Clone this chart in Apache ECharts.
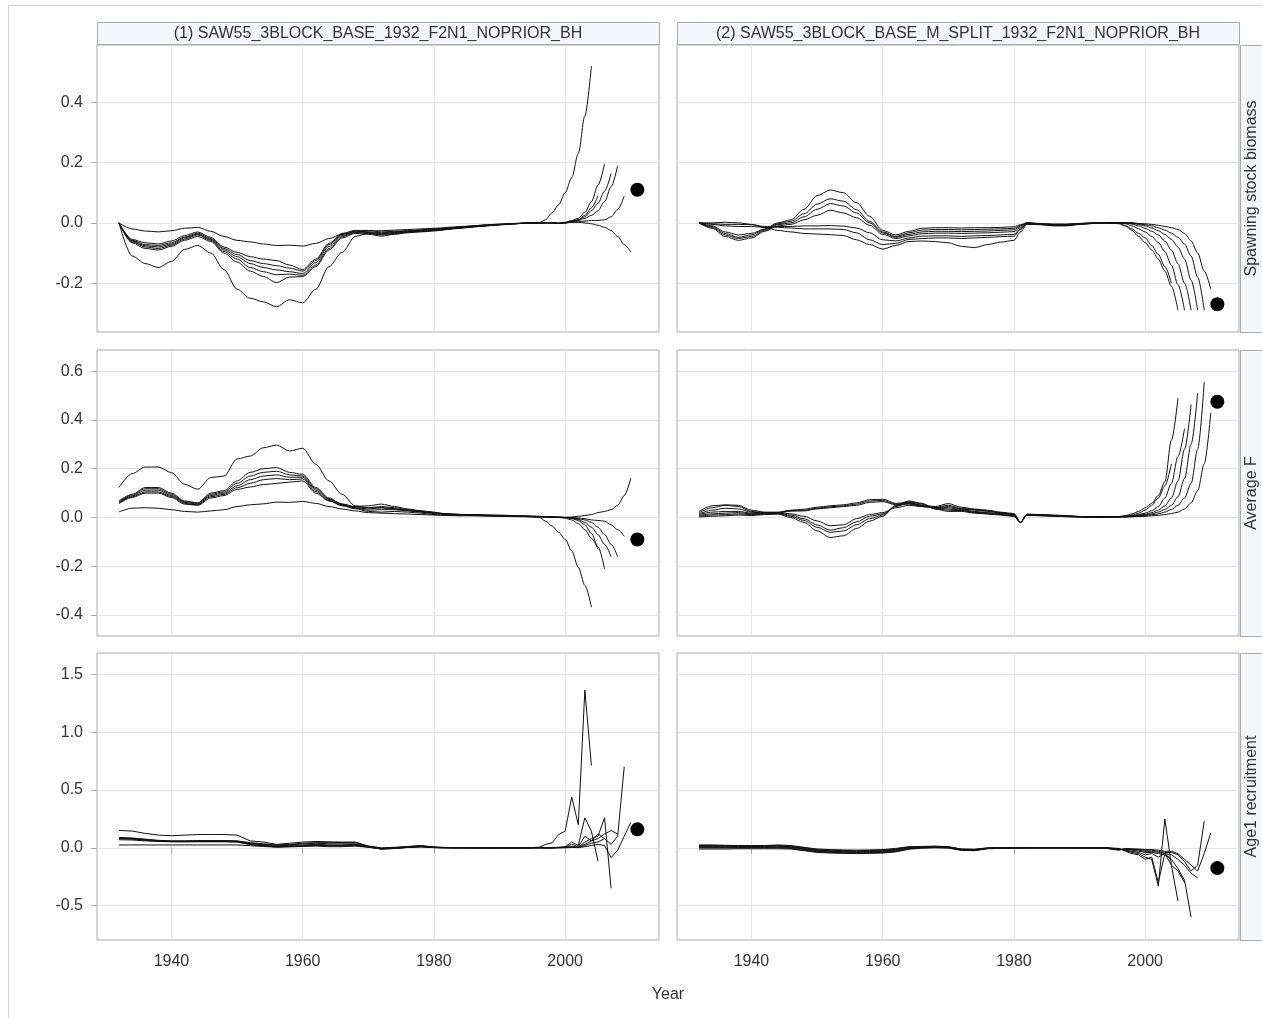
<!DOCTYPE html>
<html><head><meta charset="utf-8">
<script src="https://cdn.jsdelivr.net/npm/echarts@6/dist/echarts.min.js"></script>
<style>html,body{margin:0;padding:0;background:#fff}#c{width:1262px;height:1018px}</style>
</head><body><div id="c"></div>
<script>
// ---------------- DATA ----------------
const YEARS = [1932,1934,1936,1938,1940,1942,1944,1946,1948,1950,1952,1954,1956,1958,1960,1962,1964,1966,1968,1970,1972,1974,1976,1978,1980,1981,1982,1984,1986,1988,1990,1992,1994,1996,1997,1998,1999,2000,2001,2002,2003,2004,2005,2006,2007,2008,2009,2010];
const PEEL_END = [2004,2005,2006,2007,2008,2009,2010];
const DOT_YEAR = 2011;
const MODEL_NAMES = ['(1) SAW55_3BLOCK_BASE_1932_F2N1_NOPRIOR_BH','(2) SAW55_3BLOCK_BASE_M_SPLIT_1932_F2N1_NOPRIOR_BH'];
const METRIC_NAMES = ['Spawning stock biomass','Average F','Age1 recruitment'];
const X_TICKS = [1940,1960,1980,2000];
const Y_TICKS_SSB = [-0.2,0,0.2,0.4];
const Y_TICKS_F = [-0.4,-0.2,0,0.2,0.4,0.6];
const Y_TICKS_R = [-0.5,0,0.5,1.0,1.5];
const X_TITLE = 'Year';
// dots at 2011: [model1, model2]
const DOT_SSB = [0.11,-0.27];
const DOT_F = [-0.09,0.475];
const DOT_R = [0.16,-0.175];

// Panel 1: SSB, model 1 (peels ending 2004..2010)
const ssb1_p2004 = [0,-0.11,-0.135,-0.148,-0.128,-0.088,-0.075,-0.1,-0.155,-0.22,-0.25,-0.262,-0.278,-0.255,-0.265,-0.22,-0.145,-0.098,-0.045,-0.035,-0.038,-0.035,-0.03,-0.028,-0.025,-0.024,-0.021,-0.017,-0.013,-0.009,-0.006,-0.003,-0.001,0,
  0.01,0.033,0.06,0.1,0.15,0.23,0.355,0.52];
const ssb1_p2005 = [0,-0.066,-0.085,-0.09,-0.078,-0.058,-0.045,-0.062,-0.1,-0.13,-0.16,-0.178,-0.198,-0.18,-0.178,-0.145,-0.09,-0.05,-0.035,-0.038,-0.044,-0.038,-0.033,-0.03,-0.027,-0.025,-0.022,-0.018,-0.014,-0.01,-0.007,-0.004,-0.001,0,
  0,0,0,0,0.005,0.01,0.025,0.05,0.09];
const ssb1_p2006 = [0,-0.063,-0.08,-0.085,-0.074,-0.054,-0.04,-0.058,-0.095,-0.12,-0.148,-0.162,-0.172,-0.17,-0.174,-0.14,-0.085,-0.046,-0.032,-0.035,-0.04,-0.035,-0.031,-0.028,-0.025,-0.023,-0.02,-0.017,-0.013,-0.01,-0.006,-0.003,-0.001,0,
  0,0,-0.002,0.002,0.008,0.015,0.035,0.07,0.125,0.196];
const ssb1_p2007 = [0,-0.06,-0.076,-0.08,-0.07,-0.05,-0.037,-0.055,-0.09,-0.112,-0.135,-0.148,-0.156,-0.162,-0.168,-0.132,-0.078,-0.042,-0.03,-0.032,-0.036,-0.032,-0.029,-0.026,-0.023,-0.021,-0.019,-0.016,-0.012,-0.009,-0.006,-0.003,-0.001,0,
  0,0,-0.002,0,0.005,0.01,0.02,0.04,0.065,0.105,0.164];
const ssb1_p2008 = [0,-0.058,-0.072,-0.075,-0.066,-0.047,-0.034,-0.052,-0.085,-0.105,-0.125,-0.135,-0.142,-0.15,-0.16,-0.125,-0.072,-0.038,-0.027,-0.03,-0.033,-0.03,-0.027,-0.024,-0.022,-0.02,-0.018,-0.015,-0.011,-0.008,-0.005,-0.003,-0.001,0,
  0,0,-0.002,0,0.004,0.008,0.015,0.025,0.04,0.07,0.12,0.19];
const ssb1_p2009 = [0,-0.055,-0.066,-0.07,-0.06,-0.042,-0.03,-0.048,-0.08,-0.098,-0.112,-0.12,-0.125,-0.14,-0.155,-0.12,-0.068,-0.035,-0.025,-0.025,-0.03,-0.028,-0.026,-0.023,-0.02,-0.019,-0.017,-0.014,-0.01,-0.007,-0.005,-0.003,-0.001,0,
  0,0,-0.002,0,0.002,0.004,0.006,0.008,0.008,0.01,0.02,0.045,0.089];
const ssb1_p2010 = [0,-0.02,-0.027,-0.03,-0.026,-0.018,-0.015,-0.028,-0.045,-0.058,-0.063,-0.07,-0.075,-0.074,-0.077,-0.068,-0.052,-0.038,-0.03,-0.027,-0.026,-0.024,-0.022,-0.02,-0.018,-0.017,-0.015,-0.012,-0.01,-0.006,-0.004,-0.002,0,0,
  0,0,-0.002,0,0.002,0.002,0,-0.003,-0.008,-0.015,-0.025,-0.045,-0.072,-0.097];

// Panel 2: SSB, model 2
const ssb2_p2004 = [0,0,0.002,0,-0.005,-0.015,-0.025,-0.03,-0.035,-0.037,-0.039,-0.042,-0.056,-0.072,-0.087,-0.075,-0.062,-0.06,-0.062,-0.066,-0.078,-0.082,-0.072,-0.064,-0.058,-0.03,-0.005,-0.006,-0.01,-0.01,-0.005,-0.002,0,-0.003,
  -0.01,-0.02,-0.035,-0.05,-0.075,-0.105,-0.145,-0.2];
const ssb2_p2005 = [0,-0.01,-0.03,-0.04,-0.035,-0.02,0,0.01,0.045,0.09,0.109,0.1,0.067,0.022,-0.025,-0.04,-0.028,-0.018,-0.016,-0.016,-0.017,-0.016,-0.016,-0.015,-0.013,-0.006,0,-0.002,-0.004,-0.004,-0.002,0,0,0,
  -0.01,-0.025,-0.045,-0.065,-0.09,-0.12,-0.16,-0.21,-0.29];
const ssb2_p2006 = [0,-0.003,-0.005,-0.005,-0.006,-0.012,-0.015,-0.017,-0.02,-0.02,-0.02,-0.022,-0.033,-0.056,-0.072,-0.068,-0.055,-0.052,-0.05,-0.05,-0.052,-0.05,-0.048,-0.046,-0.044,-0.022,-0.003,-0.005,-0.009,-0.009,-0.005,-0.002,0,0,
  -0.003,-0.01,-0.02,-0.03,-0.045,-0.065,-0.095,-0.14,-0.205,-0.29];
const ssb2_p2007 = [0,-0.012,-0.035,-0.048,-0.04,-0.022,-0.003,0.005,0.03,0.062,0.08,0.072,0.044,0.005,-0.03,-0.045,-0.033,-0.024,-0.022,-0.022,-0.023,-0.022,-0.021,-0.02,-0.018,-0.009,0,-0.003,-0.005,-0.005,-0.002,0,0,0,
  0,-0.004,-0.01,-0.018,-0.028,-0.04,-0.06,-0.09,-0.135,-0.2,-0.29];
const ssb2_p2008 = [0,-0.005,-0.01,-0.012,-0.012,-0.015,-0.012,-0.012,-0.01,-0.01,-0.009,-0.011,-0.017,-0.033,-0.056,-0.06,-0.05,-0.044,-0.043,-0.043,-0.045,-0.043,-0.042,-0.04,-0.038,-0.019,-0.002,-0.004,-0.008,-0.008,-0.004,-0.001,0,0,
  0,-0.002,-0.005,-0.01,-0.017,-0.026,-0.038,-0.055,-0.08,-0.12,-0.19,-0.29];
const ssb2_p2009 = [0,-0.015,-0.04,-0.052,-0.045,-0.025,-0.006,0,0.02,0.045,0.064,0.056,0.033,0,-0.033,-0.048,-0.038,-0.03,-0.028,-0.028,-0.029,-0.028,-0.027,-0.025,-0.023,-0.011,0,-0.003,-0.006,-0.006,-0.003,-0.001,0,0,
  0,0,-0.003,-0.006,-0.01,-0.016,-0.024,-0.034,-0.048,-0.07,-0.11,-0.18,-0.29];
const ssb2_p2010 = [0,-0.018,-0.045,-0.058,-0.05,-0.028,-0.01,-0.005,0.01,0.025,0.042,0.033,0.017,-0.008,-0.038,-0.052,-0.043,-0.036,-0.034,-0.034,-0.035,-0.034,-0.033,-0.031,-0.029,-0.015,0,-0.004,-0.007,-0.007,-0.003,-0.001,0,0,
  0,0,-0.002,-0.003,-0.005,-0.008,-0.012,-0.016,-0.022,-0.035,-0.06,-0.1,-0.16,-0.22];

// Panel 3: Average F, model 1
const f1_p2004 = [0.062,0.088,0.112,0.112,0.09,0.062,0.055,0.09,0.1,0.13,0.155,0.17,0.175,0.165,0.165,0.112,0.074,0.052,0.04,0.035,0.04,0.036,0.03,0.024,0.018,0.016,0.013,0.011,0.01,0.008,0.007,0.006,0.005,0.003,
  -0.015,-0.035,-0.06,-0.09,-0.137,-0.204,-0.278,-0.368];
const f1_p2005 = [0.057,0.082,0.1,0.1,0.082,0.055,0.05,0.08,0.09,0.115,0.125,0.135,0.14,0.145,0.15,0.1,0.068,0.048,0.036,0.025,0.022,0.025,0.022,0.018,0.012,0.011,0.01,0.009,0.008,0.007,0.006,0.005,0.004,0.002,
  0.002,0.001,0,-0.003,-0.01,-0.025,-0.05,-0.085,-0.13];
const f1_p2006 = [0.068,0.095,0.123,0.123,0.1,0.068,0.06,0.1,0.11,0.15,0.185,0.2,0.205,0.185,0.177,0.123,0.08,0.055,0.045,0.048,0.055,0.045,0.035,0.028,0.022,0.018,0.015,0.013,0.012,0.01,0.008,0.007,0.006,0.004,
  0.003,0.002,0.001,0,-0.004,-0.012,-0.03,-0.065,-0.12,-0.21];
const f1_p2007 = [0.065,0.092,0.118,0.118,0.095,0.065,0.058,0.095,0.105,0.14,0.17,0.185,0.19,0.175,0.17,0.118,0.077,0.055,0.043,0.04,0.045,0.04,0.032,0.026,0.02,0.017,0.014,0.012,0.011,0.009,0.008,0.006,0.005,0.003,
  0.003,0.002,0.001,0,-0.003,-0.008,-0.02,-0.04,-0.07,-0.11,-0.161];
const f1_p2008 = [0.06,0.085,0.105,0.105,0.086,0.058,0.052,0.085,0.095,0.122,0.14,0.155,0.16,0.155,0.158,0.106,0.07,0.05,0.038,0.03,0.032,0.032,0.027,0.022,0.016,0.014,0.012,0.01,0.009,0.008,0.006,0.005,0.004,0.002,
  0.002,0.002,0.001,0,-0.002,-0.005,-0.01,-0.02,-0.04,-0.07,-0.11,-0.161];
const f1_p2009 = [0.023,0.038,0.04,0.038,0.032,0.025,0.022,0.027,0.032,0.045,0.052,0.056,0.063,0.062,0.066,0.058,0.045,0.035,0.027,0.02,0.018,0.016,0.014,0.012,0.01,0.009,0.008,0.007,0.007,0.006,0.005,0.004,0.003,0.002,
  0.002,0.001,0.001,0,0,-0.002,-0.005,-0.01,-0.012,-0.015,-0.03,-0.05,-0.077];
const f1_p2010 = [0.123,0.18,0.207,0.207,0.184,0.136,0.116,0.164,0.17,0.24,0.252,0.286,0.297,0.273,0.284,0.218,0.15,0.095,0.048,0.04,0.04,0.035,0.03,0.025,0.02,0.016,0.015,0.012,0.012,0.01,0.01,0.008,0.007,0.005,
  0.004,0.003,0.002,0.001,0.002,0.005,0.008,0.012,0.02,0.025,0.032,0.05,0.09,0.161];

// Panel 4: Average F, model 2
const f2_p2004 = [0.002,0.005,0.007,0.01,0.008,0.012,0.014,0,-0.02,-0.055,-0.082,-0.075,-0.045,-0.015,0.005,0.05,0.068,0.058,0.035,0.025,0.025,0.018,0.014,0.01,0.004,-0.02,0.009,0.007,0.005,0.003,0.002,0.001,0.001,0.002,
  0.006,0.01,0.018,0.03,0.05,0.08,0.13,0.22];
const f2_p2005 = [0.025,0.048,0.052,0.05,0.03,0.022,0.022,0.03,0.034,0.042,0.048,0.052,0.06,0.073,0.075,0.058,0.062,0.05,0.045,0.057,0.042,0.035,0.03,0.022,0.016,-0.02,0.014,0.012,0.01,0.008,0.004,0.003,0.003,0.004,
  0.008,0.015,0.025,0.04,0.058,0.09,0.147,0.317,0.49];
const f2_p2006 = [0.005,0.01,0.012,0.015,0.012,0.014,0.016,0.005,-0.012,-0.04,-0.061,-0.055,-0.03,-0.005,0.01,0.048,0.065,0.055,0.035,0.03,0.028,0.02,0.016,0.012,0.006,-0.02,0.01,0.008,0.006,0.004,0.002,0.001,0.002,0.002,
  0.005,0.008,0.012,0.018,0.028,0.045,0.08,0.14,0.25,0.365];
const f2_p2007 = [0.02,0.04,0.05,0.045,0.025,0.02,0.02,0.028,0.03,0.038,0.044,0.048,0.055,0.068,0.07,0.055,0.058,0.047,0.042,0.05,0.038,0.032,0.027,0.02,0.014,-0.02,0.013,0.011,0.009,0.007,0.004,0.003,0.003,0.004,
  0.004,0.006,0.009,0.013,0.02,0.03,0.048,0.08,0.15,0.28,0.463];
const f2_p2008 = [0.008,0.015,0.018,0.02,0.015,0.016,0.018,0.01,-0.005,-0.03,-0.052,-0.042,-0.018,0.005,0.015,0.045,0.06,0.05,0.038,0.035,0.03,0.022,0.018,0.014,0.008,-0.02,0.011,0.009,0.007,0.005,0.003,0.002,0.002,0.003,
  0.003,0.005,0.007,0.01,0.015,0.022,0.033,0.05,0.085,0.16,0.3,0.51];
const f2_p2009 = [0.015,0.03,0.038,0.035,0.022,0.018,0.018,0.026,0.027,0.035,0.04,0.045,0.05,0.062,0.065,0.052,0.055,0.045,0.04,0.045,0.035,0.03,0.025,0.018,0.012,-0.02,0.012,0.01,0.008,0.006,0.003,0.003,0.003,0.003,
  0.003,0.004,0.006,0.008,0.011,0.015,0.022,0.033,0.05,0.08,0.14,0.28,0.555];
const f2_p2010 = [0.012,0.022,0.025,0.025,0.018,0.018,0.02,0.015,0.005,-0.014,-0.034,-0.03,-0.005,0.012,0.02,0.04,0.05,0.045,0.04,0.04,0.032,0.025,0.02,0.016,0.01,-0.02,0.012,0.01,0.008,0.006,0.003,0.002,0.002,0.003,
  0.002,0.003,0.004,0.005,0.007,0.009,0.012,0.016,0.022,0.035,0.06,0.11,0.22,0.43];

// Panel 5: Age1 recruitment, model 1
const r1_p2004 = [0.09,0.085,0.075,0.065,0.06,0.06,0.062,0.062,0.062,0.06,0.045,0.035,0.025,0.03,0.04,0.045,0.045,0.045,0.045,0.015,-0.005,0,0.01,0.018,0.006,0.004,0.002,0.001,0,0,0,0,0,0.003,
  0.03,0.043,0.115,0.144,0.44,0.2,1.364,0.712];
const r1_p2005 = [0.15,0.145,0.125,0.11,0.105,0.11,0.115,0.115,0.115,0.11,0.06,0.05,0.03,0.04,0.05,0.055,0.052,0.05,0.05,0.015,0,0.005,0.012,0.02,0.008,0.005,0.003,0.002,0.001,0,0,0,0,0.005,
  0,0,0.005,0.01,0.05,0.02,0.26,0.144,-0.115];
const r1_p2006 = [0.085,0.082,0.072,0.062,0.058,0.058,0.06,0.06,0.06,0.058,0.04,0.03,0.02,0.025,0.035,0.04,0.035,0.035,0.035,0.012,-0.005,0,0.008,0.015,0.005,0.003,0.002,0.001,0,0,0,0,0,0.002,
  0,0,0.003,0.006,0.03,0.01,0.1,0.06,0.12,0.08];
const r1_p2007 = [0.082,0.078,0.068,0.06,0.056,0.056,0.058,0.058,0.058,0.055,0.035,0.025,0.015,0.02,0.025,0.03,0.025,0.025,0.03,0.01,-0.008,-0.003,0.006,0.012,0.004,0.002,0.001,0,0,0,0,0,0,0.001,
  0,0,0.002,0.004,0.01,0.005,0.05,0.08,0.1,0.26,-0.35];
const r1_p2008 = [0.08,0.075,0.065,0.058,0.054,0.054,0.055,0.055,0.055,0.052,0.03,0.02,0.01,0.015,0.02,0.025,0.02,0.02,0.025,0.008,-0.01,-0.005,0.005,0.01,0.003,0.002,0.001,0,0,0,0,0,0,0,
  0,0,0.002,0.003,0.008,0.005,0.03,0.06,0.08,0.12,0.15,0.12];
const r1_p2009 = [0.07,0.068,0.06,0.055,0.052,0.052,0.052,0.052,0.052,0.05,0.028,0.018,0.008,0.012,0.018,0.022,0.018,0.018,0.02,0.006,-0.01,-0.005,0.004,0.01,0.002,0.001,0,0,0,0,0,0,0,0,
  0,0,0.001,0.002,0.005,0.003,0.02,0.04,0.05,0.08,0.03,0.1,0.7];
const r1_p2010 = [0.025,0.025,0.025,0.025,0.025,0.025,0.025,0.025,0.025,0.025,0.018,0.012,0.005,0.008,0.012,0.015,0.01,0.01,0.015,0.005,-0.01,-0.006,0.003,0.008,0.002,0.001,0,0,0,0,0,0,0,0,
  0,0,0.001,0.001,0.003,0.002,0.01,0.02,0.03,0.02,-0.085,-0.02,0.1,0.22];

// Panel 6: Age1 recruitment, model 2
const r2_p2004 = [0.025,0.025,0.022,0.02,0.02,0.02,0.025,0.02,0.005,-0.01,-0.015,-0.018,-0.02,-0.018,-0.015,-0.005,0.01,0.012,0.015,0.01,-0.01,-0.012,0,0.002,0.003,0.003,0.003,0.002,0.002,0.001,0.001,0,0,-0.005,
  -0.03,-0.05,-0.06,-0.1,-0.08,-0.3,-0.05,-0.1];
const r2_p2005 = [0.02,0.02,0.018,0.016,0.016,0.016,0.02,0.015,0,-0.015,-0.02,-0.023,-0.025,-0.023,-0.02,-0.01,0.007,0.01,0.012,0.008,-0.012,-0.014,-0.002,0.001,0.002,0.002,0.002,0.002,0.001,0.001,0,0,0,-0.008,
  -0.025,-0.04,-0.05,-0.08,-0.1,-0.33,0.25,-0.15,-0.46];
const r2_p2006 = [0.015,0.015,0.013,0.012,0.012,0.012,0.015,0.01,-0.005,-0.02,-0.025,-0.028,-0.03,-0.028,-0.025,-0.015,0.004,0.008,0.01,0.006,-0.014,-0.016,-0.003,0,0.001,0.001,0.001,0.001,0.001,0,0,0,0,-0.01,
  -0.02,-0.03,-0.04,-0.06,-0.05,-0.08,-0.05,-0.15,-0.2,-0.3];
const r2_p2007 = [0.01,0.01,0.009,0.008,0.008,0.008,0.01,0.005,-0.01,-0.025,-0.03,-0.033,-0.035,-0.033,-0.03,-0.02,0,0.005,0.008,0.004,-0.016,-0.018,-0.004,-0.001,0,0,0,0,0,0,0,0,0,-0.012,
  -0.015,-0.02,-0.03,-0.04,-0.04,-0.05,-0.06,-0.1,-0.18,-0.28,-0.6];
const r2_p2008 = [0.005,0.005,0.005,0.004,0.004,0.004,0.005,0,-0.015,-0.03,-0.035,-0.038,-0.04,-0.038,-0.035,-0.025,-0.004,0.002,0.005,0.002,-0.018,-0.02,-0.005,-0.002,-0.001,-0.001,0,0,0,0,0,0,-0.002,-0.015,
  -0.01,-0.015,-0.02,-0.03,-0.03,-0.04,-0.05,-0.06,-0.1,-0.15,-0.22,-0.26];
const r2_p2009 = [0,0,0,0,0,0,0,-0.005,-0.02,-0.035,-0.04,-0.043,-0.045,-0.043,-0.04,-0.03,-0.008,0,0.003,0,-0.02,-0.022,-0.006,-0.003,-0.002,-0.001,-0.001,0,0,0,0,0,-0.003,-0.018,
  -0.01,-0.01,-0.015,-0.02,-0.02,-0.03,-0.04,-0.04,-0.06,-0.12,-0.2,-0.15,0.23];
const r2_p2010 = [-0.01,-0.01,-0.01,-0.008,-0.008,-0.008,-0.008,-0.01,-0.025,-0.04,-0.045,-0.048,-0.05,-0.048,-0.045,-0.035,-0.012,-0.003,0,-0.002,-0.022,-0.025,-0.008,-0.004,-0.003,-0.002,-0.002,-0.001,-0.001,0,0,0,-0.005,-0.02,
  -0.005,-0.01,-0.01,-0.015,-0.015,-0.02,-0.03,-0.03,-0.05,-0.1,-0.15,-0.2,-0.05,0.13];

// --------------- LAYOUT ---------------
const PANELS = [
  [[ssb1_p2004,ssb1_p2005,ssb1_p2006,ssb1_p2007,ssb1_p2008,ssb1_p2009,ssb1_p2010],
   [ssb2_p2004,ssb2_p2005,ssb2_p2006,ssb2_p2007,ssb2_p2008,ssb2_p2009,ssb2_p2010]],
  [[f1_p2004,f1_p2005,f1_p2006,f1_p2007,f1_p2008,f1_p2009,f1_p2010],
   [f2_p2004,f2_p2005,f2_p2006,f2_p2007,f2_p2008,f2_p2009,f2_p2010]],
  [[r1_p2004,r1_p2005,r1_p2006,r1_p2007,r1_p2008,r1_p2009,r1_p2010],
   [r2_p2004,r2_p2005,r2_p2006,r2_p2007,r2_p2008,r2_p2009,r2_p2010]]
];
const DOTS = [DOT_SSB, DOT_F, DOT_R];
const Y_TICKS = [Y_TICKS_SSB, Y_TICKS_F, Y_TICKS_R];
const Y_RANGE = [[-0.362,0.59],[-0.486,0.687],[-0.797,1.685]];
const X_RANGE = [1928.65,2014.3];
const COL_LEFT = [97,677], COL_W = 562;
const ROW_TOP = [45,350,653], ROW_H = [287,286,287];
const FONT = '"Liberation Sans", Arial, sans-serif';
const FS = 16;
const TXT = '#333';
const GRIDLINE = '#e3e3e3';
const BORDER = '#a7abb0';
const STRIP_FILL = '#f4f6fb';

const grids=[], xAxes=[], yAxes=[], series=[];
for (let r=0;r<3;r++){
  for (let c=0;c<2;c++){
    const gi = grids.length;
    grids.push({left:COL_LEFT[c], top:ROW_TOP[r], width:COL_W, height:ROW_H[r],
      show:true, borderColor:BORDER, borderWidth:1, backgroundColor:'#fff'});
    const bottomRow = r===2;
    xAxes.push({type:'value', gridIndex:gi, min:X_RANGE[0], max:X_RANGE[1],
      axisLine:{show:false},
      axisTick:{show:bottomRow, customValues:X_TICKS, length:6, lineStyle:{color:BORDER}},
      axisLabel:{show:bottomRow, customValues:X_TICKS, margin:14, color:TXT, fontSize:FS, fontFamily:FONT,
        formatter:v=>String(Math.round(v))},
      splitLine:{show:true, lineStyle:{color:GRIDLINE, width:1}}});
    const leftCol = c===0;
    yAxes.push({type:'value', gridIndex:gi, min:Y_RANGE[r][0], max:Y_RANGE[r][1],
      axisLine:{show:false},
      axisTick:{show:leftCol, customValues:Y_TICKS[r], length:6, lineStyle:{color:BORDER}},
      axisLabel:{show:leftCol, customValues:Y_TICKS[r], margin:14, color:TXT, fontSize:FS, fontFamily:FONT,
        formatter:v=>Number(v).toFixed(1)},
      splitLine:{show:true, lineStyle:{color:GRIDLINE, width:1}}});
    PANELS[r][c].forEach((vals,i)=>{
      series.push({type:'line', xAxisIndex:gi, yAxisIndex:gi, name:'peel'+PEEL_END[i],
        data: vals.map((v,j)=>[YEARS[j], v]),
        symbol:'none', showSymbol:false, silent:true,
        smooth: r<2 ? 0.3 : false, smoothMonotone:'x',
        lineStyle:{color:'#111', width:1}, z:3});
    });
    series.push({type:'scatter', xAxisIndex:gi, yAxisIndex:gi, data:[[DOT_YEAR, DOTS[r][c]]],
      symbol:'circle', symbolSize:14, itemStyle:{color:'#000', opacity:1}, silent:true, z:4});
  }
}

const graphic = [];
graphic.push({type:'polyline', shape:{points:[[8.5,1018],[8.5,5.5],[1262,5.5]]}, style:{stroke:'#d2d2d2', lineWidth:1, fill:null}, silent:true});
for (let c=0;c<2;c++){
  graphic.push({type:'rect', shape:{x:COL_LEFT[c]+0.5, y:22.5, width:COL_W, height:22}, style:{fill:STRIP_FILL, stroke:BORDER, lineWidth:1}, silent:true});
  graphic.push({type:'text', x:COL_LEFT[c]+COL_W/2, y:34, style:{text:MODEL_NAMES[c], fill:TXT, font:FS+'px '+FONT, textAlign:'center', textVerticalAlign:'middle'}, silent:true});
}
for (let r=0;r<3;r++){
  graphic.push({type:'rect', shape:{x:1240.5, y:ROW_TOP[r]+0.5, width:24, height:ROW_H[r]}, style:{fill:STRIP_FILL, stroke:BORDER, lineWidth:1}, silent:true});
  graphic.push({type:'text', x:1251.5, y:ROW_TOP[r]+ROW_H[r]/2, rotation:Math.PI/2,
    style:{text:METRIC_NAMES[r], fill:TXT, font:FS+'px '+FONT, textAlign:'center', textVerticalAlign:'middle'}, silent:true});
}
graphic.push({type:'text', x:668, y:995, style:{text:X_TITLE, fill:TXT, font:FS+'px '+FONT, textAlign:'center', textVerticalAlign:'middle'}, silent:true});

const chart = echarts.init(document.getElementById('c'), null, {renderer:'canvas', width:1262, height:1018});
chart.setOption({animation:false, backgroundColor:'#fff', grid:grids, xAxis:xAxes, yAxis:yAxes, series, graphic});
</script></body></html>
